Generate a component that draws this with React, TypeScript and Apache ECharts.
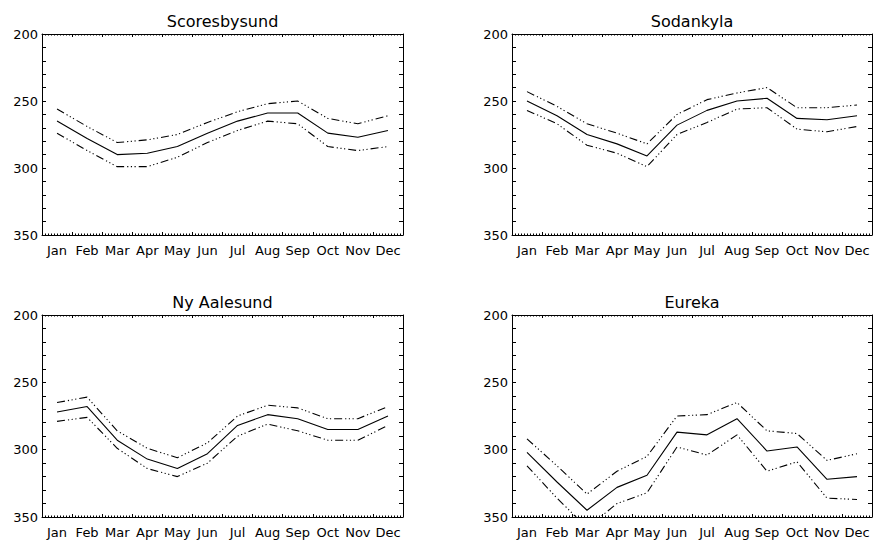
import React, { useEffect, useRef } from "react";
import * as echarts from "echarts";

const months = ["Jan", "Feb", "Mar", "Apr", "May", "Jun", "Jul", "Aug", "Sep", "Oct", "Nov", "Dec"];
const yTicks = [200, 250, 300, 350];

const stations = ["Scoresbysund", "Sodankyla", "Ny Aalesund", "Eureka"];

const scoresbysundUpper = [256, 269, 281, 279, 275, 266, 258, 252, 250, 263, 267, 261];
const scoresbysundMean = [265, 278, 290, 289, 284, 274, 265, 259, 259, 274, 277, 272];
const scoresbysundLower = [274, 287, 299, 299, 292, 281, 272, 265, 267, 284, 287, 284];

const sodankylaUpper = [243, 254, 267, 274, 282, 260, 249, 244, 240, 255, 255, 253];
const sodankylaMean = [250, 261, 275, 282, 291, 268, 257, 250, 248, 263, 264, 261];
const sodankylaLower = [257, 267, 283, 289, 299, 275, 266, 256, 255, 271, 273, 269];

const nyAalesundUpper = [265, 261, 286, 299, 306, 295, 275, 267, 269, 277, 277, 268];
const nyAalesundMean = [272, 268, 293, 307, 314, 303, 282, 274, 277, 285, 285, 275];
const nyAalesundLower = [279, 276, 299, 314, 320, 310, 290, 281, 286, 293, 293, 282];

const eurekaUpper = [292, 312, 333, 316, 305, 275, 274, 265, 286, 288, 308, 303];
const eurekaMean = [302, 324, 345, 328, 319, 287, 289, 277, 301, 298, 322, 320];
const eurekaLower = [312, 336, 358, 340, 332, 298, 304, 289, 316, 309, 336, 337];

const upperSets = [scoresbysundUpper, sodankylaUpper, nyAalesundUpper, eurekaUpper];
const meanSets = [scoresbysundMean, sodankylaMean, nyAalesundMean, eurekaMean];
const lowerSets = [scoresbysundLower, sodankylaLower, nyAalesundLower, eurekaLower];

const FONT = "DejaVu Sans";
const DASH = [8, 3, 1.2, 2.5, 1.2, 2.5, 1.2, 3];

export default function App() {
  const ref = useRef<HTMLDivElement>(null);

  useEffect(() => {
    if (!ref.current) return;
    const chart = echarts.init(ref.current, undefined, { renderer: "svg" });

    const grids = [
      { left: 42, top: 34, width: 361, height: 201 },
      { left: 512, top: 34, width: 360, height: 201 },
      { left: 42, top: 315, width: 361, height: 202 },
      { left: 512, top: 315, width: 360, height: 202 },
    ];

    const xAxes: any[] = [];
    const yAxes: any[] = [];
    const series: any[] = [];
    const graphics: any[] = [];

    grids.forEach((g, i) => {
      const line = { show: true, onZero: false, lineStyle: { color: "#000", width: 1 } };
      ["bottom", "top"].forEach((pos) => {
        xAxes.push({
          gridIndex: i,
          type: "value",
          position: pos,
          min: 0,
          max: 12,
          interval: 1,
          axisLine: line,
          axisTick: { show: true, inside: true, length: 3, lineStyle: { color: "#000" } },
          minorTick: { show: true, splitNumber: 10, length: 1.5, lineStyle: { color: "#000" } },
          splitLine: { show: false },
          minorSplitLine: { show: false },
          axisLabel:
            pos === "bottom"
              ? {
                  show: true,
                  customValues: months.map((_, k) => k + 0.5),
                  formatter: (v: number) => months[Math.floor(v)] ?? "",
                  color: "#000",
                  fontFamily: FONT,
                  fontSize: 13,
                  margin: 9,
                }
              : { show: false },
        });
      });
      ["left", "right"].forEach((pos) => {
        yAxes.push({
          gridIndex: i,
          type: "value",
          position: pos,
          inverse: true,
          min: yTicks[0],
          max: yTicks[yTicks.length - 1],
          interval: 50,
          axisLine: line,
          axisTick: { show: true, inside: true, length: 4, lineStyle: { color: "#000" } },
          minorTick: { show: true, splitNumber: 5, length: 4, lineStyle: { color: "#000" } },
          splitLine: { show: false },
          minorSplitLine: { show: false },
          axisLabel:
            pos === "left"
              ? { show: true, color: "#000", fontFamily: FONT, fontSize: 13, margin: 4 }
              : { show: false },
        });
      });

      const mk = (arr: number[], dashed: boolean) => ({
        type: "line",
        xAxisIndex: i * 2,
        yAxisIndex: i * 2,
        data: arr.map((v, k) => [k + 0.5, v]),
        symbol: "none",
        clip: true,
        lineStyle: { color: "#000", width: 1.1, type: dashed ? DASH : "solid" },
        silent: true,
      });
      series.push(mk(upperSets[i], true), mk(meanSets[i], false), mk(lowerSets[i], true));

      graphics.push({
        type: "text",
        x: g.left + g.width / 2,
        y: g.top - 13,
        style: {
          text: stations[i],
          fill: "#000",
          font: `16px "${FONT}"`,
          textAlign: "center",
          textVerticalAlign: "middle",
        },
      });
    });

    chart.setOption({
      animation: false,
      backgroundColor: "#fff",
      grid: grids.map((g) => ({ ...g, containLabel: false })),
      xAxis: xAxes,
      yAxis: yAxes,
      series,
      graphic: graphics,
    });

    return () => chart.dispose();
  }, []);

  return (
    <div
      ref={ref}
      style={{ position: "absolute", left: 0, top: 0, width: 877, height: 541, background: "#fff" }}
    />
  );
}
